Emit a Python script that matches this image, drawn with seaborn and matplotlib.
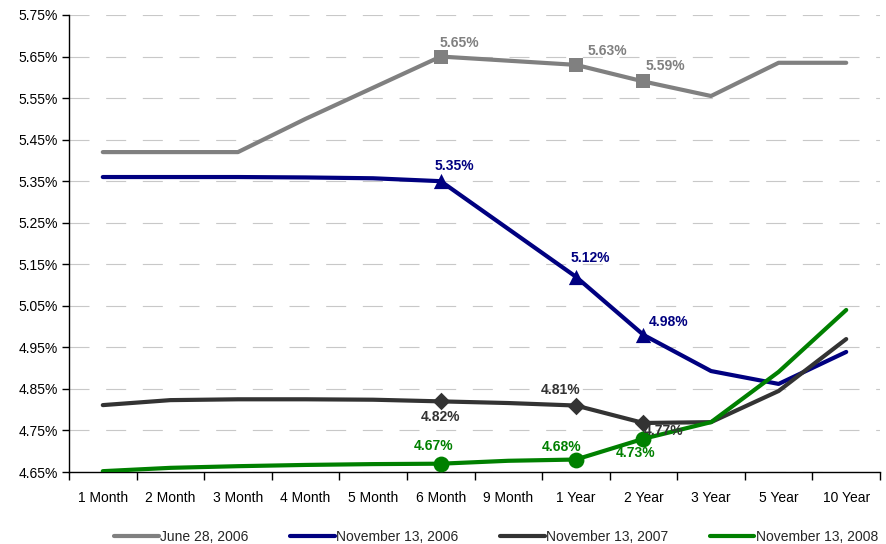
import seaborn as sns
import matplotlib
matplotlib.use("Agg")
import matplotlib.pyplot as plt
import pandas as pd
import numpy as np
from matplotlib.lines import Line2D
from matplotlib.ticker import FixedLocator, FuncFormatter

# ---- data ----
maturities = ["1 Month", "2 Month", "3 Month", "4 Month", "5 Month", "6 Month",
              "9 Month", "1 Year", "2 Year", "3 Year", "5 Year", "10 Year"]
series_names = ["June 28, 2006", "November 13, 2006", "November 13, 2007", "November 13, 2008"]
june_2006 = [5.42, 5.42, 5.42, 5.50, 5.575, 5.65, 5.64, 5.63, 5.59, 5.555, 5.635, 5.635]
nov_2006 = [5.36, 5.36, 5.36, 5.359, 5.357, 5.35, 5.235, 5.12, 4.98, 4.893, 4.862, 4.939]
nov_2007 = [4.811, 4.823, 4.825, 4.825, 4.824, 4.82, 4.816, 4.81, 4.768, 4.77, 4.845, 4.97]
nov_2008 = [4.652, 4.66, 4.664, 4.667, 4.669, 4.67, 4.677, 4.68, 4.73, 4.77, 4.891, 5.04]
labeled_maturities = ["6 Month", "1 Year", "2 Year"]
label_texts = {
    "June 28, 2006": ["5.65%", "5.63%", "5.59%"],
    "November 13, 2006": ["5.35%", "5.12%", "4.98%"],
    "November 13, 2007": ["4.82%", "4.81%", "4.77%"],
    "November 13, 2008": ["4.67%", "4.68%", "4.73%"],
}
y_ticks = [4.65, 4.75, 4.85, 4.95, 5.05, 5.15, 5.25, 5.35, 5.45, 5.55, 5.65, 5.75]

# ---- styling ----
colors = ["#808080", "#000080", "#333333", "#008000"]
markers = ["s", "^", "D", "o"]
marker_sizes = [110, 120, 80, 130]
label_offsets = {
    "June 28, 2006": [(19, 14), (31, 14), (22, 15)],
    "November 13, 2006": [(14, 15), (14, 19), (25, 13)],
    "November 13, 2007": [(0, -16), (-15, 16), (20, -8)],
    "November 13, 2008": [(-7, 18), (-14, 13), (-8, -14)],
}

values = [june_2006, nov_2006, nov_2007, nov_2008]
df = pd.DataFrame({
    "Maturity": maturities * 4,
    "Yield": sum(values, []),
    "Series": [s for s in series_names for _ in maturities],
})

sns.set_theme(style="white")
plt.rcParams['font.family'] = ['Liberation Sans', 'DejaVu Sans']

fig = plt.figure(figsize=(8.86, 5.44), dpi=100)
ax = fig.add_axes([69 / 886, 1 - 472 / 544, (880 - 69) / 886, (472 - 15) / 544])

palette = dict(zip(series_names, colors))
sns.lineplot(data=df, x="Maturity", y="Yield", hue="Series", palette=palette,
             sort=False, linewidth=3.0, ax=ax, legend=False, zorder=3)

for name, col, mk, ms in zip(series_names, colors, markers, marker_sizes):
    sub = df[(df["Series"] == name) & (df["Maturity"].isin(labeled_maturities))]
    sns.scatterplot(data=sub, x="Maturity", y="Yield", color=col, marker=mk, s=ms,
                    edgecolor=col, linewidth=0, ax=ax, legend=False, zorder=4)
    for (_, row), txt, off in zip(sub.iterrows(), label_texts[name], label_offsets[name]):
        ax.annotate(txt, (row["Maturity"], row["Yield"]), xytext=off,
                    textcoords="offset pixels", ha="center", va="center",
                    color=col, fontsize=10, fontweight="bold", zorder=5)

ax.set_xlim(-0.5, len(maturities) - 0.5)
ax.set_ylim(4.65, 5.75)
ax.yaxis.set_major_locator(FixedLocator(y_ticks))
ax.yaxis.set_major_formatter(FuncFormatter(lambda v, p: f"{v:.2f}%"))
ax.grid(axis="y", color="#c8c8c8", linewidth=0.8, linestyle=(0, (18, 15)))
ax.set_axisbelow(True)
ax.set_xlabel("")
ax.set_ylabel("")

ax.xaxis.set_minor_locator(FixedLocator(np.arange(-0.5, len(maturities), 1.0)))
ax.tick_params(axis="x", which="major", length=0, pad=14, labelsize=10, colors="#000000")
ax.tick_params(axis="x", which="minor", length=6, width=1, direction="out", color="#000000", bottom=True)
ax.tick_params(axis="y", which="major", length=5, width=1, direction="out", left=True,
               labelsize=10, colors="#000000", pad=3)

for s in ["top", "right"]:
    ax.spines[s].set_visible(False)
for s in ["left", "bottom"]:
    ax.spines[s].set_color("#000000")
    ax.spines[s].set_linewidth(1.0)

handles = [Line2D([0], [0], color=c, lw=3) for c in colors]
fig.legend(handles, series_names, loc="center", bbox_to_anchor=(0.56, 1 - 537 / 544),
           ncol=4, frameon=False, fontsize=10, handlelength=3.2, handletextpad=0.1,
           columnspacing=3.0)

fig.savefig("out.png", dpi=100, facecolor="white")
